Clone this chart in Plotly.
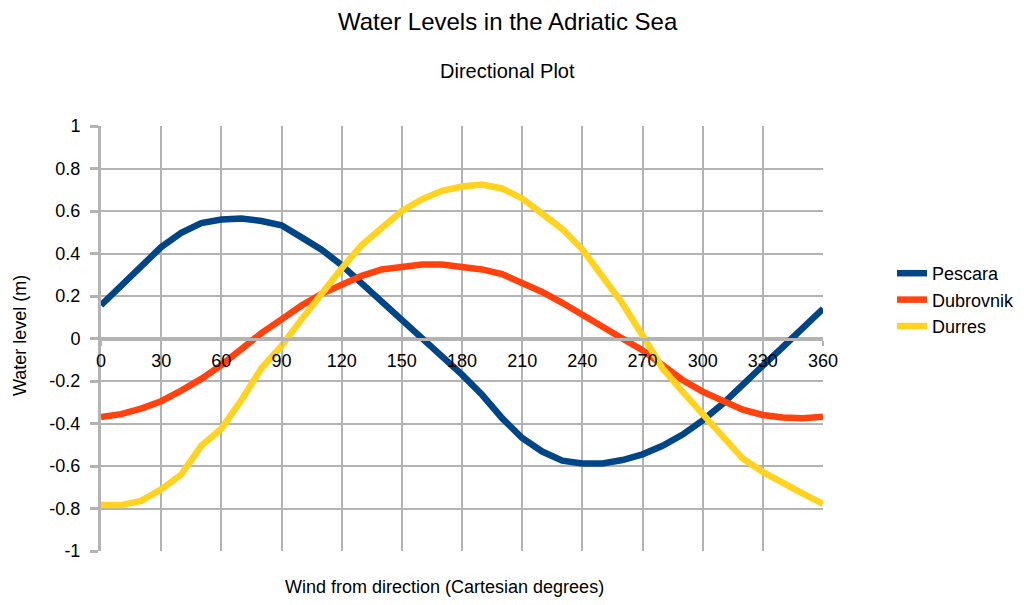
import plotly.graph_objects as go

directions = [0, 10, 20, 30, 40, 50, 60, 70, 80, 90, 100, 110, 120, 130, 140, 150, 160, 170, 180,
              190, 200, 210, 220, 230, 240, 250, 260, 270, 280, 290, 300, 310, 320, 330, 340, 350, 360]

pescara = [0.157, 0.25, 0.345, 0.43, 0.497, 0.543, 0.56, 0.565, 0.553, 0.533, 0.476, 0.418, 0.345,
           0.26, 0.172, 0.086, 0.0, -0.085, -0.17, -0.265, -0.375, -0.468, -0.532, -0.575, -0.588,
           -0.588, -0.572, -0.545, -0.505, -0.452, -0.385, -0.307, -0.214, -0.128, -0.04, 0.05, 0.14]

dubrovnik = [-0.369, -0.356, -0.33, -0.295, -0.245, -0.19, -0.125, -0.045, 0.025, 0.09, 0.155, 0.21,
             0.255, 0.295, 0.325, 0.34, 0.348, 0.348, 0.34, 0.325, 0.303, 0.262, 0.219, 0.168, 0.11,
             0.05, 0.0, -0.055, -0.125, -0.195, -0.25, -0.29, -0.335, -0.36, -0.372, -0.375, -0.368]

durres = [-0.784, -0.784, -0.764, -0.71, -0.64, -0.505, -0.425, -0.29, -0.14, -0.035, 0.09, 0.215,
          0.33, 0.44, 0.525, 0.6, 0.655, 0.695, 0.715, 0.725, 0.706, 0.659, 0.588, 0.515, 0.42,
          0.295, 0.165, 0.015, -0.14, -0.25, -0.355, -0.463, -0.565, -0.628, -0.682, -0.73, -0.778]

series_names = ["Pescara", "Dubrovnik", "Durres"]
series_colors = ["#004586", "#ff420e", "#ffd320"]

x_tick_vals = [0, 30, 60, 90, 120, 150, 180, 210, 240, 270, 300, 330, 360]
x_tick_text = ["0", "30", "60", "90", "120", "150", "180", "210", "240", "270", "300", "330", "360"]
y_tick_vals = [1, 0.8, 0.6, 0.4, 0.2, 0, -0.2, -0.4, -0.6, -0.8, -1]
y_tick_text = ["1", "0.8", "0.6", "0.4", "0.2", "0", "-0.2", "-0.4", "-0.6", "-0.8", "-1"]

FONT = "Liberation Sans, Arial, sans-serif"
GRID = "#b3b3b3"

# plot area on screen: x 101..823, y 126..551 (page has an 8px body offset)
fig = go.Figure()
for name, vals, color in zip(series_names, [pescara, dubrovnik, durres], series_colors):
    fig.add_trace(go.Scatter(x=directions, y=vals, mode="lines", name=name,
                             line=dict(color=color, width=6.5)))


def px(xs):
    return (xs - 101) / 722


def py(ys):
    return (551 - ys) / 425


fig.update_layout(
    width=1024, height=605,
    margin=dict(l=93, r=209, t=118, b=62),
    paper_bgcolor="white", plot_bgcolor="white",
    font=dict(family=FONT, size=18, color="#000000"),
    showlegend=True,
    legend=dict(x=px(892), xanchor="left", y=py(300), yanchor="middle",
                font=dict(family=FONT, size=18, color="#000000"),
                tracegroupgap=0, bgcolor="rgba(0,0,0,0)"),
    xaxis=dict(range=[0, 360], tickvals=x_tick_vals, ticktext=x_tick_text,
               showgrid=True, gridcolor=GRID, gridwidth=2,
               showline=True, linecolor=GRID, linewidth=3,
               anchor="free", position=0.5, side="bottom",
               ticks="outside", ticklen=5, tickwidth=2, tickcolor=GRID,
               tickfont=dict(family=FONT, size=18, color="#000000"),
               zeroline=False, fixedrange=True),
    yaxis=dict(range=[-1, 1], tickvals=y_tick_vals, ticktext=y_tick_text,
               showgrid=True, gridcolor=GRID, gridwidth=2,
               showline=True, linecolor=GRID, linewidth=3,
               zeroline=True, zerolinecolor=GRID, zerolinewidth=3,
               ticks="outside", ticklen=8, tickwidth=3, tickcolor=GRID,
               ticklabelstandoff=6,
               tickfont=dict(family=FONT, size=18, color="#000000"),
               fixedrange=True),
    annotations=[
        dict(text="Water Levels in the Adriatic Sea", xref="paper", yref="paper",
             x=px(508), y=py(21), xanchor="center", yanchor="middle",
             showarrow=False, font=dict(family=FONT, size=24, color="#000000")),
        dict(text="Directional Plot", xref="paper", yref="paper",
             x=px(508), y=py(71), xanchor="center", yanchor="middle",
             showarrow=False, font=dict(family=FONT, size=20, color="#000000")),
        dict(text="Wind from direction (Cartesian degrees)", xref="paper", yref="paper",
             x=px(444), y=py(587), xanchor="center", yanchor="middle",
             showarrow=False, font=dict(family=FONT, size=18, color="#000000")),
        dict(text="Water level (m)", xref="paper", yref="paper", textangle=-90,
             x=px(20), y=py(336), xanchor="center", yanchor="middle",
             showarrow=False, font=dict(family=FONT, size=18, color="#000000")),
    ],
)

fig.write_html("out.html")
